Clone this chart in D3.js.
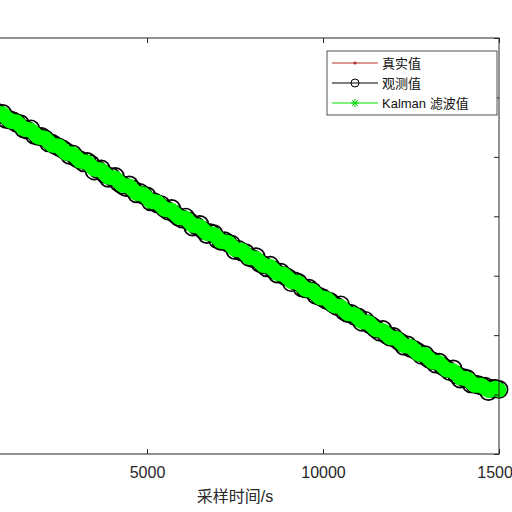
<!DOCTYPE html>
<html>
<head>
    <meta charset="utf-8">
    <title>Kalman 滤波</title>
    <script src="https://cdnjs.cloudflare.com/ajax/libs/d3/7.8.5/d3.min.js"></script>
    <style>
        body {
            margin: 0;
            background-color: white;
        }
        #chart {
            width: 512px;
            height: 512px;
            overflow: hidden;
        }
    </style>
</head>
<body>
    <div id="chart"></div>

    <script>
        // sample times (s), one sample every 100 s
        const sampleStep = 100;
        const xTicks = [0, 5000, 10000, 15000];
        const yTicks = [0.3, 0.4, 0.5, 0.6, 0.7, 0.8, 0.9, 1.0];
        const legendLabels = ['真实值', '观测值', 'Kalman 滤波值'];
        const xLabel = '采样时间/s';

        const trueValues = [
            0.900,0.899,0.893,0.887,0.887,0.886,0.880,0.874,0.873,0.872,
            0.866,0.860,0.860,0.859,0.853,0.847,0.846,0.845,0.839,0.833,
            0.833,0.832,0.826,0.820,0.819,0.818,0.812,0.806,0.806,0.805,
            0.799,0.793,0.792,0.791,0.785,0.779,0.779,0.778,0.772,0.766,
            0.765,0.764,0.758,0.752,0.752,0.751,0.745,0.739,0.738,0.737,
            0.731,0.725,0.724,0.724,0.718,0.712,0.711,0.710,0.704,0.698,
            0.697,0.697,0.691,0.685,0.684,0.683,0.677,0.671,0.670,0.670,
            0.664,0.658,0.657,0.656,0.650,0.644,0.643,0.643,0.637,0.631,
            0.630,0.629,0.623,0.617,0.616,0.616,0.610,0.604,0.603,0.602,
            0.596,0.590,0.589,0.589,0.583,0.577,0.576,0.575,0.569,0.563,
            0.562,0.562,0.556,0.550,0.549,0.548,0.542,0.536,0.535,0.535,
            0.529,0.523,0.522,0.521,0.515,0.509,0.508,0.508,0.502,0.496,
            0.495,0.494,0.488,0.482,0.481,0.481,0.475,0.469,0.468,0.467,
            0.461,0.455,0.454,0.454,0.448,0.442,0.441,0.440,0.434,0.428,
            0.427,0.427,0.421,0.416,0.416,0.416,0.411,0.407,0.409,0.411,
            0.408
        ];

        const observedValues = [
            0.9020,0.8961,0.8942,0.8864,0.8895,0.8836,0.8797,0.8759,0.8710,0.8731,
            0.8632,0.8624,0.8605,0.8566,0.8557,0.8469,0.8450,0.8471,0.8362,0.8344,
            0.8345,0.8306,0.8237,0.8229,0.8190,0.8161,0.8132,0.8093,0.8025,0.8046,
            0.7977,0.7948,0.7900,0.7921,0.7882,0.7763,0.7785,0.7796,0.7707,0.7638,
            0.7660,0.7671,0.7562,0.7523,0.7485,0.7526,0.7457,0.7378,0.7400,0.7351,
            0.7342,0.7243,0.7244,0.7206,0.7197,0.7128,0.7089,0.7131,0.7032,0.6983,
            0.6954,0.6986,0.6917,0.6818,0.6839,0.6861,0.6762,0.6693,0.6724,0.6706,
            0.6607,0.6578,0.6589,0.6551,0.6532,0.6423,0.6444,0.6395,0.6387,0.6308,
            0.6289,0.6320,0.6212,0.6183,0.6134,0.6175,0.6097,0.6028,0.6059,0.6000,
            0.5972,0.5883,0.5914,0.5885,0.5797,0.5778,0.5789,0.5740,0.5672,0.5653,
            0.5624,0.5585,0.5566,0.5518,0.5479,0.5510,0.5401,0.5363,0.5364,0.5315,
            0.5306,0.5218,0.5249,0.5190,0.5151,0.5103,0.5054,0.5095,0.5006,0.4968,
            0.4979,0.4920,0.4881,0.4813,0.4834,0.4775,0.4756,0.4717,0.4659,0.4670,
            0.4601,0.4572,0.4514,0.4545,0.4476,0.4437,0.4389,0.4430,0.4331,0.4262,
            0.4284,0.4265,0.4180,0.4177,0.4166,0.4147,0.4142,0.4050,0.4105,0.4105,
            0.4087
        ];

        const kalmanValues = [
            0.9000,0.8991,0.8932,0.8874,0.8865,0.8856,0.8797,0.8739,0.8730,0.8721,
            0.8662,0.8604,0.8595,0.8586,0.8527,0.8469,0.8460,0.8451,0.8392,0.8334,
            0.8325,0.8316,0.8257,0.8199,0.8190,0.8181,0.8122,0.8063,0.8055,0.8046,
            0.7987,0.7928,0.7920,0.7911,0.7852,0.7793,0.7785,0.7776,0.7717,0.7658,
            0.7650,0.7641,0.7582,0.7523,0.7515,0.7506,0.7447,0.7388,0.7380,0.7371,
            0.7312,0.7253,0.7244,0.7236,0.7177,0.7118,0.7109,0.7101,0.7042,0.6983,
            0.6974,0.6966,0.6907,0.6848,0.6839,0.6831,0.6772,0.6713,0.6704,0.6696,
            0.6637,0.6578,0.6569,0.6561,0.6502,0.6443,0.6434,0.6425,0.6367,0.6308,
            0.6299,0.6290,0.6232,0.6173,0.6164,0.6155,0.6097,0.6038,0.6029,0.6020,
            0.5962,0.5903,0.5894,0.5885,0.5827,0.5768,0.5759,0.5750,0.5692,0.5633,
            0.5624,0.5615,0.5556,0.5498,0.5489,0.5480,0.5421,0.5363,0.5354,0.5345,
            0.5286,0.5228,0.5219,0.5210,0.5151,0.5093,0.5084,0.5075,0.5016,0.4958,
            0.4949,0.4940,0.4881,0.4823,0.4814,0.4805,0.4746,0.4687,0.4679,0.4670,
            0.4611,0.4552,0.4544,0.4535,0.4476,0.4417,0.4409,0.4400,0.4341,0.4282,
            0.4274,0.4265,0.4210,0.4157,0.4156,0.4157,0.4112,0.4070,0.4085,0.4105,
            0.4077
        ];

        const axisColor = '#262626';
        const fontLatin = '"Liberation Sans", Arial, sans-serif';
        const fontCjk = '"Liberation Sans", "Noto Sans CJK SC", sans-serif';

        // plot box (left edge sits outside the window, as in the cropped figure)
        const plot = {left: -29, right: 499, top: 38, bottom: 454};

        const svg = d3.select('#chart')
            .append('svg')
                .attr('width', 512)
                .attr('height', 512)
                .style('display', 'block');

        svg.append('rect')
            .attr('width', 512)
            .attr('height', 512)
            .attr('fill', 'white');

        const x = d3.scaleLinear()
            .domain([0, 15000])
            .range([plot.left, plot.right]);

        const y = d3.scaleLinear()
            .domain([0.3, 1.0])
            .range([plot.bottom, plot.top]);

        const toPoints = vals => vals.map((v, i) => ({t: i * sampleStep, v: v}));
        const truePts = toPoints(trueValues);
        const obsPts = toPoints(observedValues);
        const kalPts = toPoints(kalmanValues);

        const line = d3.line()
            .x(d => x(d.t))
            .y(d => y(d.v));

        // asterisk marker path
        function asterisk(r) {
            const d = r * 0.7071;
            return `M${-r},0L${r},0M0,${-r}L0,${r}M${-d},${-d}L${d},${d}M${-d},${d}L${d},${-d}`;
        }

        // --- true value (red, dots)
        svg.append('path')
            .datum(truePts)
            .attr('fill', 'none')
            .attr('stroke', '#b5332e')
            .attr('stroke-width', 1)
            .attr('d', line);

        svg.append('g')
            .selectAll('circle')
            .data(truePts)
            .join('circle')
                .attr('cx', d => x(d.t))
                .attr('cy', d => y(d.v))
                .attr('r', 1.5)
                .attr('fill', '#b5332e');

        // --- observed (black circles)
        svg.append('path')
            .datum(obsPts)
            .attr('fill', 'none')
            .attr('stroke', 'black')
            .attr('stroke-width', 1)
            .attr('d', line);

        svg.append('g')
            .selectAll('circle')
            .data(obsPts)
            .join('circle')
                .attr('cx', d => x(d.t))
                .attr('cy', d => y(d.v))
                .attr('r', 8.6)
                .attr('fill', 'none')
                .attr('stroke', 'black')
                .attr('stroke-width', 1.7);

        // --- Kalman estimate (green asterisks, dense)
        svg.append('path')
            .datum(kalPts)
            .attr('fill', 'none')
            .attr('stroke', '#00ff00')
            .attr('stroke-width', 15)
            .attr('stroke-linejoin', 'round')
            .attr('stroke-linecap', 'round')
            .attr('d', line);

        svg.append('g')
            .selectAll('path')
            .data(kalPts)
            .join('path')
                .attr('transform', d => `translate(${x(d.t)},${y(d.v)})`)
                .attr('d', asterisk(7))
                .attr('fill', 'none')
                .attr('stroke', '#00ff00')
                .attr('stroke-width', 1.2);

        // --- axes box and ticks (ticks point inward)
        svg.append('rect')
            .attr('x', plot.left)
            .attr('y', plot.top)
            .attr('width', plot.right - plot.left)
            .attr('height', plot.bottom - plot.top)
            .attr('fill', 'none')
            .attr('stroke', axisColor)
            .attr('stroke-width', 1);

        function styleAxis(g) {
            g.select('.domain').remove();
            g.selectAll('line').attr('stroke', axisColor);
            g.selectAll('text')
                .attr('fill', axisColor)
                .style('font-family', fontLatin)
                .style('font-size', '16px');
        }

        // the 0 label falls outside the cropped window, so it is left blank
        svg.append('g')
            .attr('transform', `translate(0,${plot.bottom})`)
            .call(d3.axisBottom(x).tickValues(xTicks).tickSizeInner(-5).tickSizeOuter(0).tickPadding(13)
                .tickFormat(d => d === 0 ? '' : d3.format('d')(d)))
            .call(styleAxis);

        svg.append('g')
            .attr('transform', `translate(0,${plot.top})`)
            .call(d3.axisTop(x).tickValues(xTicks).tickSizeInner(-5).tickSizeOuter(0).tickFormat(''))
            .call(styleAxis);

        svg.append('g')
            .attr('transform', `translate(${plot.left},0)`)
            .call(d3.axisLeft(y).tickValues(yTicks).tickSizeInner(-5).tickSizeOuter(0).tickFormat(''))
            .call(styleAxis);

        svg.append('g')
            .attr('transform', `translate(${plot.right},0)`)
            .call(d3.axisRight(y).tickValues(yTicks).tickSizeInner(-5).tickSizeOuter(0).tickFormat(''))
            .call(styleAxis);

        // x axis label
        svg.append('text')
            .attr('x', (plot.left + plot.right) / 2)
            .attr('y', 502)
            .attr('text-anchor', 'middle')
            .attr('fill', axisColor)
            .style('font-family', fontCjk)
            .style('font-size', '16px')
            .text(xLabel);

        // --- legend
        const legend = svg.append('g');
        legend.append('rect')
            .attr('x', 327)
            .attr('y', 51)
            .attr('width', 170)
            .attr('height', 64)
            .attr('fill', 'white')
            .attr('stroke', axisColor)
            .attr('stroke-width', 0.8);

        const legendStyles = [
            {color: '#b5332e', marker: 'dot'},
            {color: 'black', marker: 'circle'},
            {color: '#00dd00', marker: 'star'}
        ];

        legendLabels.forEach((label, i) => {
            const cy = 63 + i * 20;
            const st = legendStyles[i];
            legend.append('line')
                .attr('x1', 332).attr('x2', 378)
                .attr('y1', cy).attr('y2', cy)
                .attr('stroke', st.color)
                .attr('stroke-width', 1);
            if (st.marker === 'dot') {
                legend.append('circle')
                    .attr('cx', 355).attr('cy', cy).attr('r', 1.6)
                    .attr('fill', st.color);
            } else if (st.marker === 'circle') {
                legend.append('circle')
                    .attr('cx', 355).attr('cy', cy).attr('r', 4)
                    .attr('fill', 'none')
                    .attr('stroke', st.color);
            } else {
                legend.append('path')
                    .attr('transform', `translate(355,${cy})`)
                    .attr('d', asterisk(4))
                    .attr('fill', 'none')
                    .attr('stroke', st.color);
            }
            legend.append('text')
                .attr('x', 382)
                .attr('y', cy)
                .attr('dy', '0.36em')
                .attr('fill', '#111')
                .style('font-family', fontCjk)
                .style('font-size', '13px')
                .text(label);
        });
    </script>
</body>
</html>
